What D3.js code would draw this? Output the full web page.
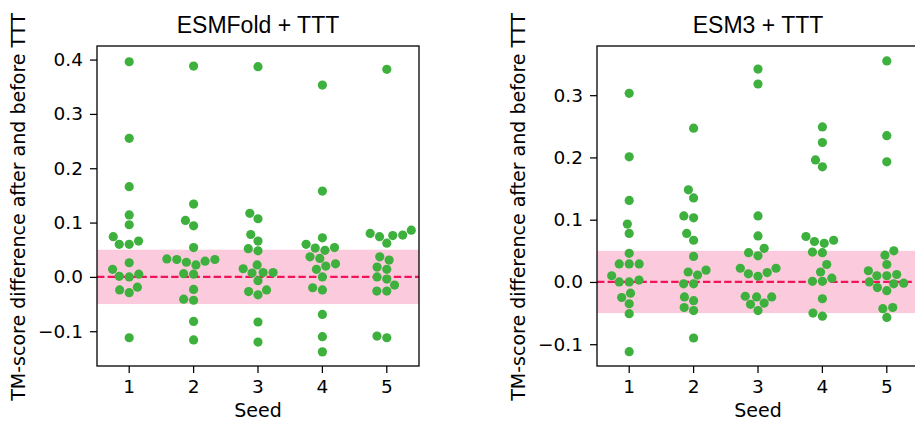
<!DOCTYPE html>
<html lang="en">
<head>
<meta charset="UTF-8">
<title>TM-score difference after and before TTT</title>
<script src="https://d3js.org/d3.v7.min.js"></script>
<style>
  body { margin: 0; background: #fff; }
  svg { display: block; }
  .tick text { font-family: "DejaVu Sans", sans-serif; font-size: 18.5px; fill: #000; }
  .tick line { stroke: #000; stroke-width: 1.25; }
  .axis-label { font-family: "DejaVu Sans", sans-serif; font-size: 19px; fill: #000; }
  .title { font-family: "Liberation Sans", Arial, sans-serif; font-size: 23px; fill: #000; }
</style>
</head>
<body>
<svg width="915" height="422"></svg>
<script>
// seeds on the x axis
const seeds = ["1", "2", "3", "4", "5"];

// TM-score difference (after - before TTT), one row per seed
const esmfoldDiff = [
  [0.396, 0.255, 0.166, 0.114, 0.096, 0.074, 0.060, 0.060, 0.066, 0.026, 0.014, 0.001, 0.000, 0.005, -0.024, -0.029, -0.019, -0.112],
  [0.388, 0.134, 0.104, 0.094, 0.054, 0.032, 0.029, 0.022, 0.027, 0.032, 0.033, 0.006, 0.005, -0.023, -0.041, -0.043, -0.082, -0.116],
  [0.387, 0.117, 0.107, 0.078, 0.066, 0.052, 0.048, 0.022, 0.015, 0.007, 0.008, 0.008, -0.007, -0.027, -0.033, -0.024, -0.083, -0.120],
  [0.353, 0.158, 0.060, 0.053, 0.072, 0.049, 0.054, 0.037, 0.034, 0.020, 0.024, 0.014, 0.000, -0.020, -0.024, -0.069, -0.110, -0.138],
  [0.382, 0.080, 0.074, 0.062, 0.076, 0.077, 0.086, 0.037, 0.031, 0.018, 0.014, 0.000, -0.004, -0.015, -0.026, -0.026, -0.109, -0.112]
];
const esm3Diff = [
  [0.303, 0.201, 0.131, 0.093, 0.078, 0.046, 0.029, 0.029, 0.029, 0.010, 0.000, 0.000, 0.003, -0.025, -0.018, -0.035, -0.051, -0.112],
  [0.247, 0.148, 0.135, 0.106, 0.103, 0.078, 0.067, 0.041, 0.019, 0.011, 0.016, -0.003, -0.003, -0.024, -0.030, -0.041, -0.046, -0.090],
  [0.342, 0.318, 0.106, 0.074, 0.054, 0.047, 0.042, 0.022, 0.015, 0.009, 0.013, 0.022, -0.023, -0.024, -0.034, -0.036, -0.024, -0.046],
  [0.249, 0.224, 0.196, 0.185, 0.067, 0.062, 0.065, 0.073, 0.048, 0.047, 0.028, 0.016, 0.006, 0.001, 0.001, -0.027, -0.050, -0.055],
  [0.355, 0.235, 0.193, 0.043, 0.050, 0.028, 0.018, 0.010, 0.010, 0.012, 0.000, -0.003, -0.002, -0.009, -0.014, -0.043, -0.041, -0.057]
];

const esmfoldTicks = [-0.1, 0.0, 0.1, 0.2, 0.3, 0.4];
const esm3Ticks = [-0.1, 0.0, 0.1, 0.2, 0.3];
const esmfoldDomain = [-0.164, 0.425];
const esm3Domain = [-0.135, 0.379];

// shaded +/-0.05 band and the zero reference
const bandRange = [-0.05, 0.05];
const refLine = 0;

const svg = d3.select("svg");
const plotTop = 46, plotBottom = 366;
const dotR = 4.6, swarmR = 4.75;

// seaborn-style beeswarm: place each point as close to the centre as possible
function beeswarm(values, cx, y) {
  const pts = values.map(v => ({ v: v, x: cx, y: y(v) }))
    .sort((a, b) => b.y - a.y);
  const placed = [];
  pts.forEach((p, i) => {
    if (i === 0) { placed.push(p); return; }
    const nb = [];
    for (let j = placed.length - 1; j >= 0; j--) {
      if (placed[j].y - p.y < 2 * swarmR) nb.push(placed[j]);
      else break;
    }
    const cands = [cx];
    let leftFirst = true;
    nb.forEach(q => {
      const dy = q.y - p.y;
      const dx = Math.sqrt(Math.max(4 * swarmR * swarmR - dy * dy, 0)) * 1.05;
      if (leftFirst) cands.push(q.x - dx, q.x + dx);
      else cands.push(q.x + dx, q.x - dx);
      leftFirst = !leftFirst;
    });
    // ties (within rounding) keep their candidate order
    const order = cands.map((x, k) => ({ x: x, k: k, off: Math.abs(x - cx) }))
      .sort((a, b) => (Math.abs(a.off - b.off) < 1e-6 ? a.k - b.k : a.off - b.off));
    const ok = order.find(c => nb.every(q =>
      (q.x - c.x) ** 2 + (q.y - p.y) ** 2 >= 4 * swarmR * swarmR - 1e-6));
    p.x = ok ? ok.x : cx;
    placed.push(p);
  });
  return placed;
}

function drawPanel(opts) {
  const g = svg.append("g");
  const x = d3.scaleBand().domain(seeds).range([opts.left, opts.right]).padding(0);
  const y = d3.scaleLinear().domain(opts.domain).range([plotBottom, plotTop]);

  // band + dashed zero line
  g.append("rect")
    .attr("x", opts.left)
    .attr("width", opts.right - opts.left)
    .attr("y", y(bandRange[1]))
    .attr("height", y(bandRange[0]) - y(bandRange[1]))
    .attr("fill", "#fbcadc");

  g.append("line")
    .attr("x1", opts.left).attr("x2", opts.right)
    .attr("y1", y(refLine)).attr("y2", y(refLine))
    .attr("stroke", "#f0145a")
    .attr("stroke-width", 2.2)
    .attr("stroke-dasharray", "7.4,3.2");

  // points
  opts.values.forEach((vals, i) => {
    const cx = x(seeds[i]) + x.bandwidth() / 2;
    g.append("g").selectAll("circle")
      .data(beeswarm(vals, cx, y))
      .join("circle")
      .attr("cx", d => d.x)
      .attr("cy", d => d.y)
      .attr("r", dotR)
      .attr("fill", "#3db03d");
  });

  // axes
  const xAxis = g.append("g")
    .attr("transform", `translate(0,${plotBottom})`)
    .call(d3.axisBottom(x).tickSize(7).tickPadding(7));
  xAxis.select(".domain").remove();

  const yAxis = g.append("g")
    .attr("transform", `translate(${opts.left},0)`)
    .call(d3.axisLeft(y).tickValues(opts.ticks).tickFormat(d3.format(".1f")).tickSize(7).tickPadding(7));
  yAxis.select(".domain").remove();

  // frame
  g.append("rect")
    .attr("x", opts.left).attr("y", plotTop)
    .attr("width", opts.right - opts.left)
    .attr("height", plotBottom - plotTop)
    .attr("fill", "none")
    .attr("stroke", "#000")
    .attr("stroke-width", 1.3);

  // labels
  g.append("text")
    .attr("class", "title")
    .attr("x", (opts.left + opts.right) / 2)
    .attr("y", 33)
    .attr("text-anchor", "middle")
    .text(opts.title);

  g.append("text")
    .attr("class", "axis-label")
    .attr("x", (opts.left + opts.right) / 2)
    .attr("y", 417)
    .attr("text-anchor", "middle")
    .text("Seed");

  g.append("text")
    .attr("class", "axis-label")
    .attr("transform", `translate(${opts.labelX},${(plotTop + plotBottom) / 2 + 1}) rotate(-90)`)
    .attr("text-anchor", "middle")
    .text("TM-score difference after and before TTT");
}

drawPanel({ left: 97, right: 419, domain: esmfoldDomain, ticks: esmfoldTicks,
  values: esmfoldDiff, title: "ESMFold + TTT", labelX: 25 });
drawPanel({ left: 597, right: 919, domain: esm3Domain, ticks: esm3Ticks,
  values: esm3Diff, title: "ESM3 + TTT", labelX: 525 });
</script>
</body>
</html>
